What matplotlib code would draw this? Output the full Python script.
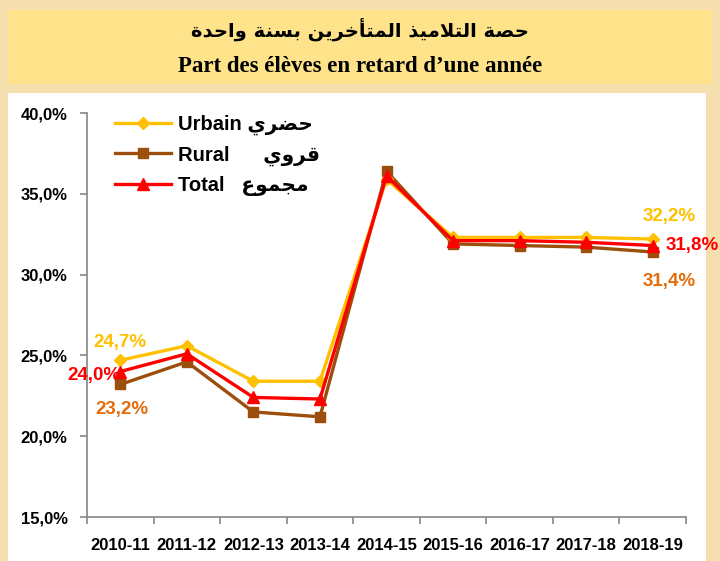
import matplotlib
matplotlib.use("Agg")
import matplotlib.pyplot as plt
from matplotlib.patches import Rectangle
from matplotlib.lines import Line2D
from matplotlib.ticker import FuncFormatter

years = ["2010-11", "2011-12", "2012-13", "2013-14", "2014-15",
         "2015-16", "2016-17", "2017-18", "2018-19"]
urbain = [24.7, 25.6, 23.4, 23.4, 35.9, 32.3, 32.3, 32.3, 32.2]
rural = [23.2, 24.6, 21.5, 21.2, 36.4, 31.9, 31.8, 31.7, 31.4]
total = [24.0, 25.1, 22.4, 22.3, 36.1, 32.1, 32.1, 32.0, 31.8]

title_ar = "حصة التلاميذ المتأخرين بسنة واحدة"
title_fr = "Part des élèves en retard d\u2019une année"
legend_fr = ["Urbain", "Rural", "Total"]
legend_ar = ["حضري", "قروي", "مجموع"]

# arabic presentation forms: isolated, final, initial, medial
FORMS = {
    'ا': ('\uFE8D', '\uFE8E', None, None),
    'أ': ('\uFE83', '\uFE84', None, None),
    'ب': ('\uFE8F', '\uFE90', '\uFE91', '\uFE92'),
    'ة': ('\uFE93', '\uFE94', None, None),
    'ت': ('\uFE95', '\uFE96', '\uFE97', '\uFE98'),
    'ج': ('\uFE9D', '\uFE9E', '\uFE9F', '\uFEA0'),
    'ح': ('\uFEA1', '\uFEA2', '\uFEA3', '\uFEA4'),
    'خ': ('\uFEA5', '\uFEA6', '\uFEA7', '\uFEA8'),
    'د': ('\uFEA9', '\uFEAA', None, None),
    'ذ': ('\uFEAB', '\uFEAC', None, None),
    'ر': ('\uFEAD', '\uFEAE', None, None),
    'س': ('\uFEB1', '\uFEB2', '\uFEB3', '\uFEB4'),
    'ص': ('\uFEB9', '\uFEBA', '\uFEBB', '\uFEBC'),
    'ض': ('\uFEBD', '\uFEBE', '\uFEBF', '\uFEC0'),
    'ع': ('\uFEC9', '\uFECA', '\uFECB', '\uFECC'),
    'ق': ('\uFED5', '\uFED6', '\uFED7', '\uFED8'),
    'ل': ('\uFEDD', '\uFEDE', '\uFEDF', '\uFEE0'),
    'م': ('\uFEE1', '\uFEE2', '\uFEE3', '\uFEE4'),
    'ن': ('\uFEE5', '\uFEE6', '\uFEE7', '\uFEE8'),
    'و': ('\uFEED', '\uFEEE', None, None),
    'ي': ('\uFEF1', '\uFEF2', '\uFEF3', '\uFEF4'),
    'LA': ('\uFEFB', '\uFEFC', None, None),
}


def shape(text):
    toks = []
    i = 0
    while i < len(text):
        if text[i] == 'ل' and i + 1 < len(text) and text[i + 1] == 'ا':
            toks.append('LA')
            i += 2
        else:
            toks.append(text[i])
            i += 1
    out = []
    for k, t in enumerate(toks):
        if t not in FORMS:
            out.append(t)
            continue
        prev = toks[k - 1] if k > 0 else None
        nxt = toks[k + 1] if k + 1 < len(toks) else None
        join_prev = prev in FORMS and FORMS[prev][2] is not None
        join_next = nxt in FORMS and FORMS[t][2] is not None
        iso, fin, ini, med = FORMS[t]
        if join_prev and join_next:
            out.append(med)
        elif join_prev:
            out.append(fin)
        elif join_next:
            out.append(ini)
        else:
            out.append(iso)
    return "".join(reversed(out))


W, H = 720, 561
fig = plt.figure(figsize=(W / 100, H / 100), dpi=100)
fig.patch.set_facecolor("#f6dfae")

# title banner and white chart panel
fig.patches.append(Rectangle((8 / W, 1 - 84 / H), 704 / W, 74 / H,
                             transform=fig.transFigure, facecolor="#fee38a",
                             edgecolor="none", zorder=-5))
fig.patches.append(Rectangle((8 / W, 0), 698 / W, 1 - 93 / H,
                             transform=fig.transFigure, facecolor="white",
                             edgecolor="none", zorder=-5))

fig.text(0.5, 1 - 29 / H, shape(title_ar), ha="center", va="center",
         fontsize=14, fontweight="bold", family=["DejaVu Sans"])
fig.text(0.5, 1 - 67 / H, title_fr, ha="center", va="center",
         fontsize=16.5, fontweight="bold", family=["Liberation Serif"])

ax = fig.add_axes([87 / W, 1 - 517 / H, 599 / W, 404 / H])
ax.set_facecolor("none")

x = list(range(len(years)))
c_urb, c_rur, c_tot = "#ffc000", "#9c4f0c", "#ff0000"
ax.plot(x, urbain, color=c_urb, lw=2.4, marker="D", ms=6.5, zorder=3)
ax.plot(x, rural, color=c_rur, lw=2.4, marker="s", ms=7.5, zorder=2)
ax.plot(x, total, color=c_tot, lw=2.4, marker="^", ms=8, zorder=4)

ax.set_xlim(-0.5, len(years) - 0.5)
ax.set_ylim(15, 40)
ax.set_yticks([15, 20, 25, 30, 35, 40])
ax.yaxis.set_major_formatter(FuncFormatter(lambda v, p: f"{v:.1f}%".replace(".", ",")))
ax.set_xticks([i - 0.5 for i in range(len(years) + 1)])
ax.set_xticklabels([])
ax.set_xticks(x, minor=True)
ax.set_xticklabels(years, minor=True)
ax.tick_params(axis="x", which="major", length=5, color="#868686", width=1.2)
ax.tick_params(axis="x", which="minor", length=0, pad=15)
ax.tick_params(axis="y", length=5, color="#868686", width=1.2, pad=9)
for lab in ax.get_xticklabels(minor=True):
    lab.set_fontweight("bold")
    lab.set_fontsize(12)
    lab.set_family(["Liberation Sans Narrow", "Liberation Sans"])
for lab in ax.get_yticklabels():
    lab.set_fontweight("bold")
    lab.set_fontsize(12)
    lab.set_family("Liberation Sans")
for s in ["top", "right"]:
    ax.spines[s].set_visible(False)
for s in ["left", "bottom"]:
    ax.spines[s].set_color("#868686")
    ax.spines[s].set_linewidth(1.2)

lbl = dict(fontsize=13.5, fontweight="bold", family="Liberation Sans",
           textcoords="offset points", va="center")
pct = lambda v: f"{v:.1f}%".replace(".", ",")
ax.annotate(pct(urbain[0]), (0, urbain[0]), xytext=(0, 13), color=c_urb, ha="center", **lbl)
ax.annotate(pct(total[0]), (0, total[0]), xytext=(-19, -3), color=c_tot, ha="center", **lbl)
ax.annotate(pct(rural[0]), (0, rural[0]), xytext=(1, -18), color="#e46c0a", ha="center", **lbl)
ax.annotate(pct(urbain[-1]), (8, urbain[-1]), xytext=(11.5, 16.5), color=c_urb, ha="center", **lbl)
ax.annotate(pct(total[-1]), (8, total[-1]), xytext=(9, 0), color=c_tot, ha="left", **lbl)
ax.annotate(pct(rural[-1]), (8, rural[-1]), xytext=(11.5, -21.5), color="#e46c0a", ha="center", **lbl)

handles = [Line2D([], [], color=c_urb, lw=2.4, marker="D", ms=6.5),
           Line2D([], [], color=c_rur, lw=2.4, marker="s", ms=7.5),
           Line2D([], [], color=c_tot, lw=2.4, marker="^", ms=8)]
pads = [" ", "      ", "   "]
names = [f"{fr}{p}{shape(ar)}" for fr, p, ar in zip(legend_fr, pads, legend_ar)]
ax.legend(handles, names, loc="upper left", bbox_to_anchor=(0.047, 0.995),
          frameon=False, handlelength=2.75, handletextpad=0.35, labelspacing=0.5,
          borderpad=0, borderaxespad=0,
          prop=dict(family=["Liberation Sans", "DejaVu Sans"], weight="bold", size=14.5))

fig.savefig("out.png", dpi=100, facecolor=fig.get_facecolor())
